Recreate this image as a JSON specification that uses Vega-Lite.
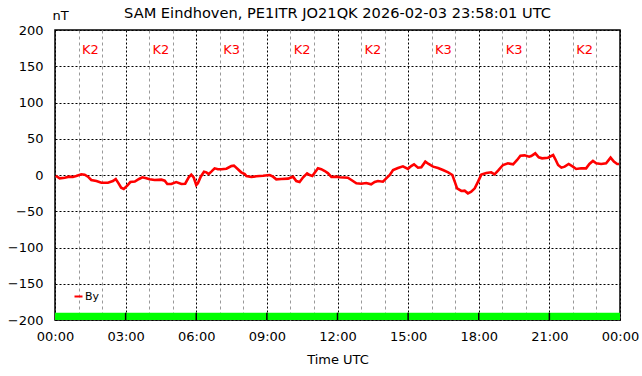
{
  "$schema": "https://vega.github.io/schema/vega-lite/v6.json",
  "width": 565,
  "height": 290,
  "autosize": "none",
  "padding": {"left": 55, "top": 30, "right": 22, "bottom": 56},
  "background": "white",
  "config": {
    "font": "DejaVu Sans",
    "view": {"stroke": "black", "strokeWidth": 1.5},
    "axis": {"labelColor": "black", "titleColor": "black", "labelFont": "DejaVu Sans", "titleFont": "DejaVu Sans"},
    "axisX": {
      "labelExpr": "datum.value % 3 == 0 ? ((datum.value == 24 ? '00' : (datum.value < 10 ? '0' : '') + datum.value) + ':00') : ''",
      "labelOverlap": false,
      "labelFlush": false,
      "labelFontSize": 13,
      "labelPadding": 10,
      "ticks": false,
      "domain": false,
      "grid": true,
      "gridColor": {"condition": {"test": "datum.value % 3 == 0", "value": "black"}, "value": "#999999"},
      "gridDash": {"condition": {"test": "datum.value % 3 == 0", "value": [2, 2]}, "value": [3, 3]},
      "gridWidth": 1,
      "gridOpacity": 1,
      "titleFontSize": 13,
      "titleFontWeight": "normal",
      "titlePadding": 10
    },
    "axisY": {
      "labelFontSize": 13,
      "labelPadding": 12,
      "ticks": false,
      "domain": false,
      "grid": true,
      "gridColor": "black",
      "gridDash": [2, 2],
      "gridOpacity": 1,
      "titleAngle": 0,
      "titleX": 5,
      "titleY": -15,
      "titleAlign": "center",
      "titleBaseline": "middle",
      "titleFontSize": 13,
      "titleFontWeight": "normal"
    }
  },
  "title": {
    "text": "SAM Eindhoven, PE1ITR JO21QK 2026-02-03 23:58:01 UTC",
    "fontSize": 14.6,
    "fontWeight": "normal",
    "color": "black",
    "anchor": "middle",
    "offset": 0,
    "dy": 12
  },
  "datasets": {
    "seg": [
      {"start": 0, "end": 3, "mid": 1.5, "k": "K2"},
      {"start": 3, "end": 6, "mid": 4.5, "k": "K2"},
      {"start": 6, "end": 9, "mid": 7.5, "k": "K3"},
      {"start": 9, "end": 12, "mid": 10.5, "k": "K2"},
      {"start": 12, "end": 15, "mid": 13.5, "k": "K2"},
      {"start": 15, "end": 18, "mid": 16.5, "k": "K3"},
      {"start": 18, "end": 21, "mid": 19.5, "k": "K3"},
      {"start": 21, "end": 24, "mid": 22.5, "k": "K2"}
    ],
    "by": [
      {"h":0.03,"v":-1,"s":"By"},{"h":0.2,"v":-4.6,"s":"By"},{"h":0.41,"v":-3.7,"s":"By"},{"h":0.6,"v":-2.3,"s":"By"},
      {"h":0.76,"v":-2.8,"s":"By"},{"h":0.9,"v":-1.4,"s":"By"},{"h":1.12,"v":1,"s":"By"},{"h":1.26,"v":0.5,"s":"By"},
      {"h":1.4,"v":-2.3,"s":"By"},{"h":1.54,"v":-6.9,"s":"By"},{"h":1.76,"v":-8.3,"s":"By"},{"h":1.97,"v":-10.6,"s":"By"},
      {"h":2.25,"v":-10.6,"s":"By"},{"h":2.46,"v":-8.3,"s":"By"},{"h":2.58,"v":-5.5,"s":"By"},{"h":2.7,"v":-11.5,"s":"By"},
      {"h":2.81,"v":-17.5,"s":"By"},{"h":2.92,"v":-19.3,"s":"By"},{"h":3.06,"v":-15,"s":"By"},{"h":3.2,"v":-9.7,"s":"By"},
      {"h":3.39,"v":-9,"s":"By"},{"h":3.57,"v":-5.5,"s":"By"},{"h":3.71,"v":-3.2,"s":"By"},{"h":3.88,"v":-4.6,"s":"By"},
      {"h":4.02,"v":-6,"s":"By"},{"h":4.23,"v":-6.9,"s":"By"},{"h":4.52,"v":-6.4,"s":"By"},{"h":4.66,"v":-7.8,"s":"By"},
      {"h":4.77,"v":-12.4,"s":"By"},{"h":4.94,"v":-12.4,"s":"By"},{"h":5.15,"v":-9.7,"s":"By"},{"h":5.37,"v":-12.4,"s":"By"},
      {"h":5.53,"v":-12,"s":"By"},{"h":5.68,"v":-3.2,"s":"By"},{"h":5.79,"v":0.5,"s":"By"},{"h":5.89,"v":-3.2,"s":"By"},
      {"h":6.0,"v":-13.8,"s":"By"},{"h":6.07,"v":-11.5,"s":"By"},{"h":6.19,"v":-2.3,"s":"By"},{"h":6.33,"v":4.6,"s":"By"},
      {"h":6.43,"v":3.7,"s":"By"},{"h":6.53,"v":1.4,"s":"By"},{"h":6.64,"v":4.6,"s":"By"},{"h":6.78,"v":9.2,"s":"By"},
      {"h":6.92,"v":8,"s":"By"},{"h":7.07,"v":8,"s":"By"},{"h":7.28,"v":8.7,"s":"By"},{"h":7.49,"v":12.4,"s":"By"},
      {"h":7.6,"v":12.9,"s":"By"},{"h":7.77,"v":8,"s":"By"},{"h":7.91,"v":3.7,"s":"By"},{"h":8.06,"v":1.4,"s":"By"},
      {"h":8.13,"v":-1.4,"s":"By"},{"h":8.34,"v":-2.8,"s":"By"},{"h":8.55,"v":-1.8,"s":"By"},{"h":8.84,"v":-1,"s":"By"},
      {"h":9.12,"v":0,"s":"By"},{"h":9.26,"v":-2.3,"s":"By"},{"h":9.4,"v":-6,"s":"By"},{"h":9.61,"v":-5.5,"s":"By"},
      {"h":9.9,"v":-5,"s":"By"},{"h":10.11,"v":-2.3,"s":"By"},{"h":10.25,"v":-8.3,"s":"By"},{"h":10.39,"v":-9.7,"s":"By"},
      {"h":10.54,"v":-3.2,"s":"By"},{"h":10.71,"v":2.3,"s":"By"},{"h":10.82,"v":0,"s":"By"},{"h":10.93,"v":-1.4,"s":"By"},
      {"h":11.03,"v":3.2,"s":"By"},{"h":11.17,"v":9.2,"s":"By"},{"h":11.31,"v":8,"s":"By"},{"h":11.46,"v":5.5,"s":"By"},
      {"h":11.6,"v":2.3,"s":"By"},{"h":11.74,"v":-2.8,"s":"By"},{"h":11.95,"v":-2.3,"s":"By"},{"h":12.09,"v":-3.2,"s":"By"},
      {"h":12.44,"v":-3.7,"s":"By"},{"h":12.59,"v":-6.9,"s":"By"},{"h":12.8,"v":-11.5,"s":"By"},{"h":13.01,"v":-12,"s":"By"},
      {"h":13.22,"v":-11,"s":"By"},{"h":13.43,"v":-12.9,"s":"By"},{"h":13.58,"v":-9.7,"s":"By"},{"h":13.72,"v":-8.3,"s":"By"},
      {"h":13.93,"v":-9.2,"s":"By"},{"h":14.07,"v":-4.6,"s":"By"},{"h":14.22,"v":0,"s":"By"},{"h":14.36,"v":6.9,"s":"By"},
      {"h":14.57,"v":9.7,"s":"By"},{"h":14.78,"v":12,"s":"By"},{"h":14.99,"v":8.3,"s":"By"},{"h":15.13,"v":12.4,"s":"By"},
      {"h":15.25,"v":14.7,"s":"By"},{"h":15.42,"v":10.1,"s":"By"},{"h":15.56,"v":10.6,"s":"By"},{"h":15.73,"v":18.4,"s":"By"},
      {"h":15.87,"v":15.2,"s":"By"},{"h":16.06,"v":11.5,"s":"By"},{"h":16.27,"v":9.7,"s":"By"},{"h":16.48,"v":6.9,"s":"By"},
      {"h":16.7,"v":3.7,"s":"By"},{"h":16.88,"v":0,"s":"By"},{"h":16.98,"v":-9.2,"s":"By"},{"h":17.08,"v":-18.4,"s":"By"},
      {"h":17.26,"v":-22,"s":"By"},{"h":17.4,"v":-21.6,"s":"By"},{"h":17.54,"v":-25.3,"s":"By"},{"h":17.68,"v":-23,"s":"By"},
      {"h":17.83,"v":-18.4,"s":"By"},{"h":17.97,"v":-9.2,"s":"By"},{"h":18.11,"v":0.5,"s":"By"},{"h":18.32,"v":2.8,"s":"By"},
      {"h":18.53,"v":3.7,"s":"By"},{"h":18.67,"v":0.9,"s":"By"},{"h":18.82,"v":6,"s":"By"},{"h":19.03,"v":13.8,"s":"By"},
      {"h":19.24,"v":16.1,"s":"By"},{"h":19.46,"v":14.7,"s":"By"},{"h":19.63,"v":20.7,"s":"By"},{"h":19.77,"v":26.7,"s":"By"},
      {"h":19.95,"v":27.1,"s":"By"},{"h":20.14,"v":25.3,"s":"By"},{"h":20.23,"v":26.2,"s":"By"},{"h":20.4,"v":29.9,"s":"By"},
      {"h":20.55,"v":24.4,"s":"By"},{"h":20.69,"v":23,"s":"By"},{"h":20.94,"v":23.9,"s":"By"},{"h":21.16,"v":27.6,"s":"By"},
      {"h":21.25,"v":22,"s":"By"},{"h":21.37,"v":13.8,"s":"By"},{"h":21.51,"v":10.1,"s":"By"},{"h":21.65,"v":11.5,"s":"By"},
      {"h":21.82,"v":15.2,"s":"By"},{"h":22.0,"v":11.5,"s":"By"},{"h":22.14,"v":8.3,"s":"By"},{"h":22.35,"v":9.2,"s":"By"},
      {"h":22.56,"v":9.2,"s":"By"},{"h":22.7,"v":15.2,"s":"By"},{"h":22.85,"v":19.3,"s":"By"},{"h":22.99,"v":16.1,"s":"By"},
      {"h":23.2,"v":15.2,"s":"By"},{"h":23.41,"v":16.1,"s":"By"},{"h":23.6,"v":23.9,"s":"By"},{"h":23.74,"v":18.4,"s":"By"},
      {"h":23.88,"v":15.2,"s":"By"},{"h":23.96,"v":15.2,"s":"By"}
    ]
  },
  "layer": [
    {
      "data": {"name": "seg"},
      "mark": {"type": "rect", "color": "#00ff00"},
      "encoding": {
        "x": {
          "field": "start", "type": "quantitative",
          "scale": {"domain": [0, 24], "nice": false, "zero": false},
          "axis": {"values": [0,1,2,3,4,5,6,7,8,9,10,11,12,13,14,15,16,17,18,19,20,21,22,23,24], "title": "Time UTC"}
        },
        "x2": {"field": "end"},
        "y": {
          "datum": -200, "type": "quantitative",
          "scale": {"domain": [-200, 200], "nice": false},
          "axis": {"values": [-200, -150, -100, -50, 0, 50, 100, 150, 200], "title": "nT"}
        },
        "y2": {"datum": -190}
      }
    },
    {
      "data": {"name": "seg"},
      "transform": [{"filter": "datum.start > 0"}],
      "mark": {"type": "rule", "color": "black", "strokeWidth": 1.5},
      "encoding": {
        "x": {"field": "start", "type": "quantitative",
          "axis": {"values": [0,1,2,3,4,5,6,7,8,9,10,11,12,13,14,15,16,17,18,19,20,21,22,23,24], "title": "Time UTC"}},
        "y": {"datum": -200, "type": "quantitative",
          "axis": {"values": [-200, -150, -100, -50, 0, 50, 100, 150, 200], "title": "nT"}},
        "y2": {"datum": -190}
      }
    },
    {
      "data": {"name": "by"},
      "mark": {"type": "line", "strokeWidth": 2.6, "interpolate": "linear"},
      "encoding": {
        "x": {"field": "h", "type": "quantitative",
          "axis": {"values": [0,1,2,3,4,5,6,7,8,9,10,11,12,13,14,15,16,17,18,19,20,21,22,23,24], "title": "Time UTC"}},
        "y": {"field": "v", "type": "quantitative",
          "axis": {"values": [-200, -150, -100, -50, 0, 50, 100, 150, 200], "title": "nT"}},
        "color": {
          "field": "s", "type": "nominal",
          "scale": {"domain": ["By"], "range": ["#ff0000"]},
          "legend": {
            "title": null,
            "orient": "bottom-left",
            "offset": 18,
            "padding": 0,
            "symbolType": "stroke",
            "symbolSize": 64,
            "symbolStrokeWidth": 2,
            "labelFontSize": 11,
            "labelColor": "black",
            "labelOffset": 1
          }
        }
      }
    },
    {
      "data": {"name": "seg"},
      "mark": {"type": "text", "color": "#ff0000", "fontSize": 13, "baseline": "middle", "align": "center"},
      "encoding": {
        "x": {"field": "mid", "type": "quantitative",
          "axis": {"values": [0,1,2,3,4,5,6,7,8,9,10,11,12,13,14,15,16,17,18,19,20,21,22,23,24], "title": "Time UTC"}},
        "y": {"datum": 172.4, "type": "quantitative",
          "axis": {"values": [-200, -150, -100, -50, 0, 50, 100, 150, 200], "title": "nT"}},
        "text": {"field": "k"}
      }
    }
  ]
}
